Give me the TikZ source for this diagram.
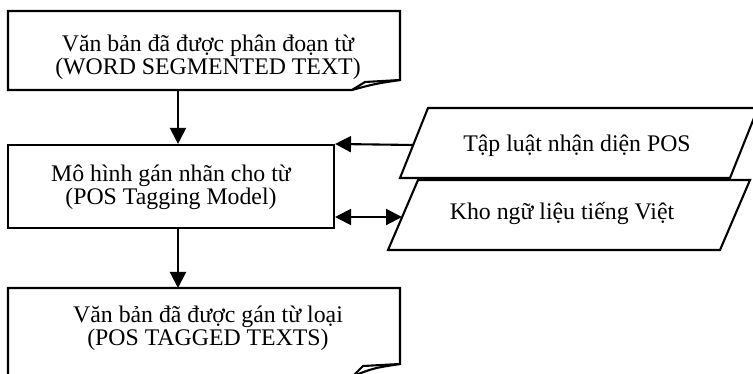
\documentclass[tikz,border=0pt]{standalone}
\usepackage{fontspec}
\setmainfont{Liberation Serif}
\usetikzlibrary{arrows.meta}
\begin{document}
\begin{tikzpicture}[x=1pt,y=-1pt, line width=2.1pt,
  txt/.style={font=\fontsize{23.8}{23}\selectfont, align=center, inner sep=0pt},
  arr/.style={-{Triangle[length=16pt,width=16pt]}},
  darr/.style={{Triangle[length=16pt,width=16pt]}-{Triangle[length=16pt,width=16pt]}},
  outline/.style={draw, line join=miter}]
\useasboundingbox (0,0) rectangle (753,374);
% top document
\draw[outline] (8,11) -- (400,11) -- (400,80) .. controls (374,84) .. (352,90) -- (8,90) -- cycle;
\draw[outline] (352,90) -- (365,82) -- (400,80);
\node[txt, anchor=base] (seg) at (208,75) {Văn bản đã được phân đoạn từ\\(WORD SEGMENTED TEXT)};
\coordinate (segb) at (178,90);
% model box
\node[draw, minimum width=326pt, minimum height=83pt, inner sep=0pt] (model) at (171,186.5) {};
\node[txt, anchor=base] (modeltxt) at (171,205) {Mô hình gán nhãn cho từ\\(POS Tagging Model)};
% bottom document
\draw[outline] (8,288) -- (400,288) -- (400,364) .. controls (374,368) .. (353,376) -- (8,376) -- cycle;
\draw[outline] (353,376) -- (363,366) -- (400,364);
\node[txt, anchor=base] (tagged) at (208,345) {Văn bản đã được gán từ loại\\(POS TAGGED TEXTS)};
\coordinate (tagt) at (178,288);
% parallelograms
\draw[outline] (428,108) -- (758,108) -- (730,178) -- (400,178) -- cycle;
\node[txt, anchor=base] (rules) at (577,152) {Tập luật nhận diện POS};
\draw[outline] (418,180) -- (750,180) -- (720,250) -- (388,250) -- cycle;
\node[txt, anchor=base] (corpus) at (562,220) {Kho ngữ liệu tiếng Việt};
\coordinate (p1l) at (413,145);
\coordinate (p2l) at (402,217);
% connectors
\draw[arr] (segb) -- (segb |- model.north);
\draw[arr] (segb |- model.south) -- (tagt);
\draw[arr] (p1l) -- (model.north east);
\draw[darr] (model.east |- p2l) -- (p2l);
\end{tikzpicture}
\end{document}
